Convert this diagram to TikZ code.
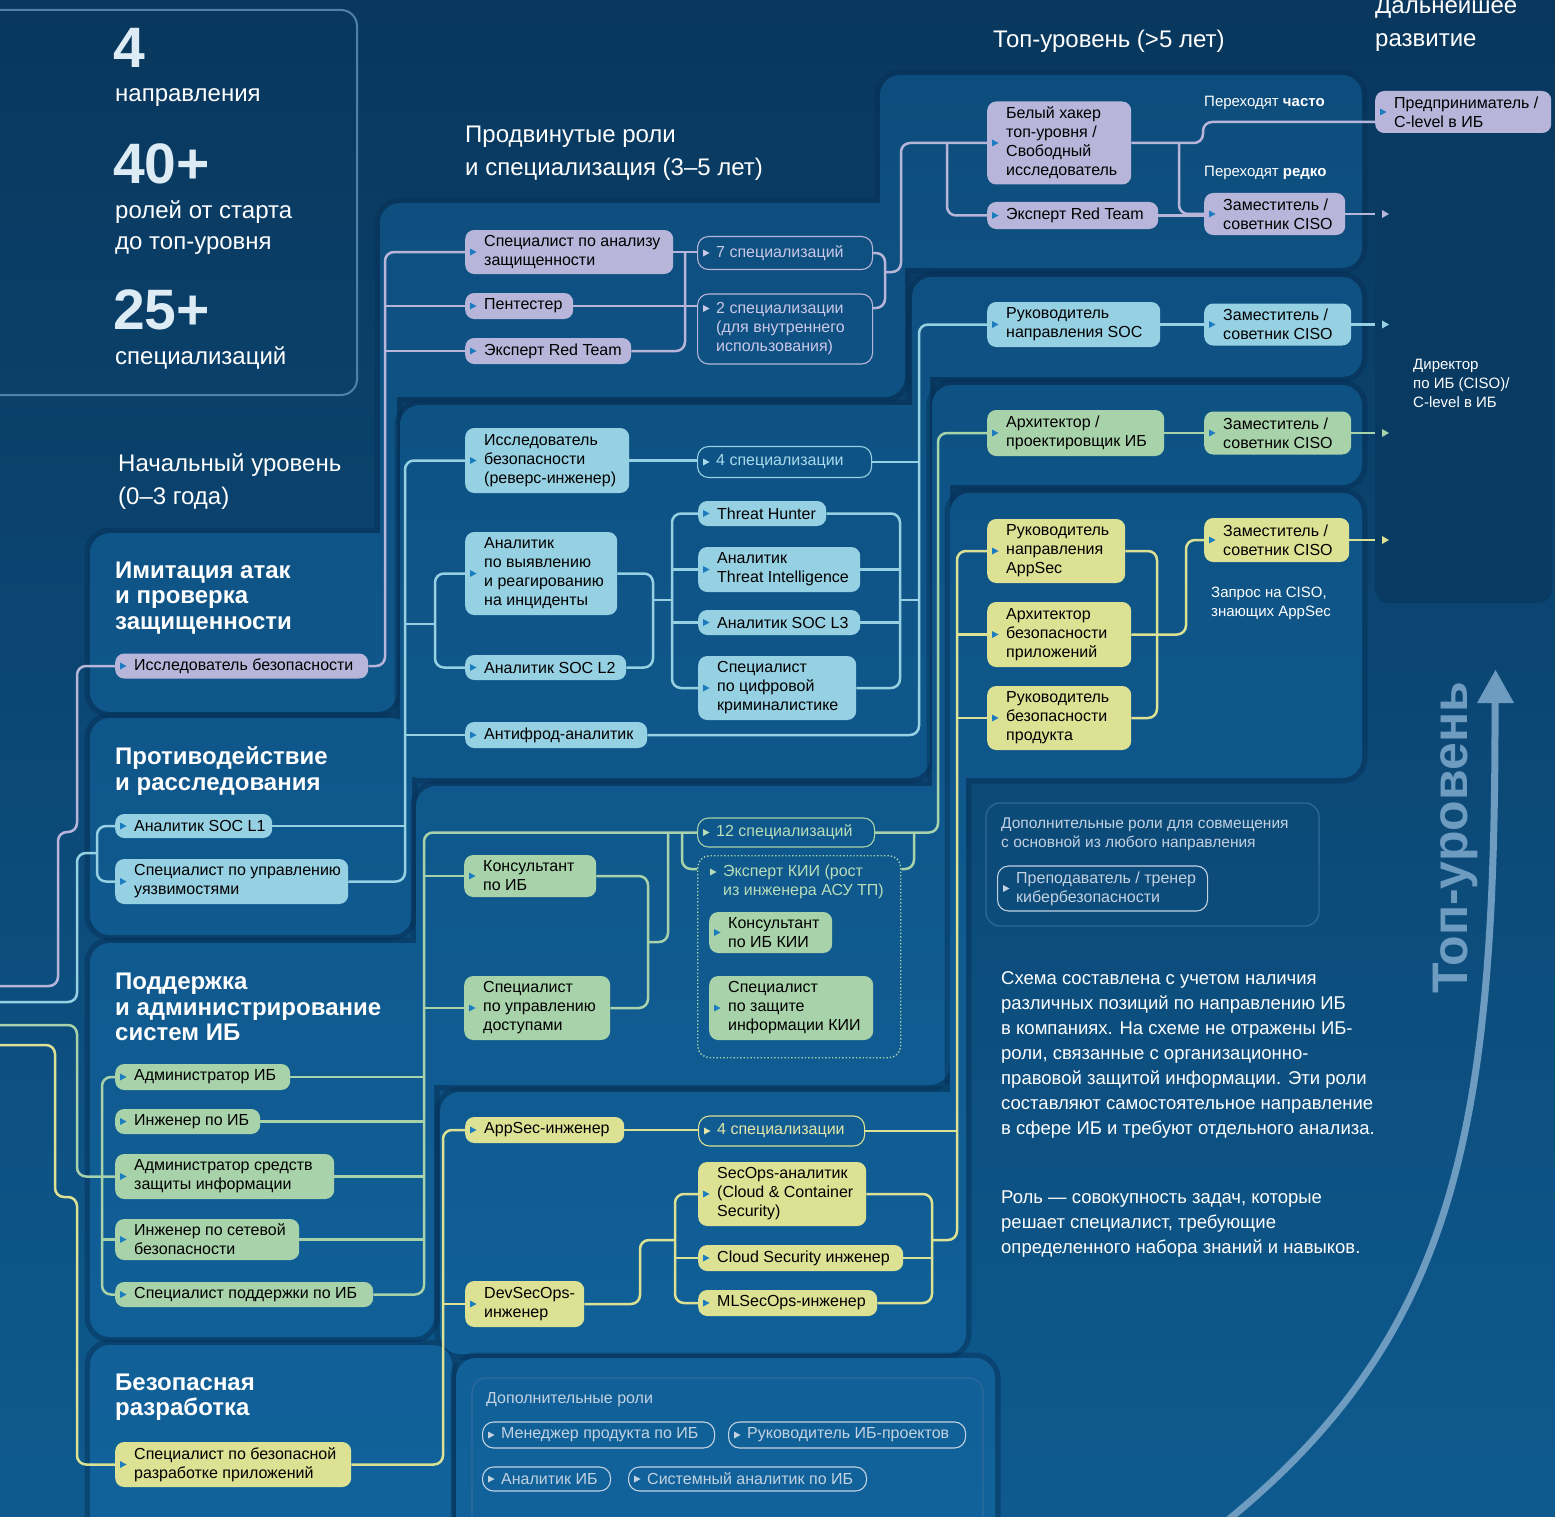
\documentclass[tikz,border=0pt]{standalone}
\usepackage{fontspec}
\setmainfont{Liberation Sans}
\usetikzlibrary{calc}
\definecolor{lavC}{HTML}{B7B5D9}
\definecolor{bluC}{HTML}{96D0E3}
\definecolor{grnC}{HTML}{A8D2AA}
\definecolor{yelC}{HTML}{DCE193}
\definecolor{mkC}{HTML}{1C7CC0}
\definecolor{bgTop}{HTML}{09375D}
\definecolor{bgBot}{HTML}{0E5A8F}
\definecolor{panTop}{HTML}{0D4C7B}
\definecolor{panBot}{HTML}{11629B}
\definecolor{shdC}{HTML}{062F55}
\definecolor{lavT}{HTML}{CAC8E8}
\definecolor{bluT}{HTML}{A9DBEC}
\definecolor{grnT}{HTML}{B8DDB9}
\definecolor{yelT}{HTML}{E3E7A8}
\definecolor{pilC}{HTML}{C2D2E1}
\definecolor{arrC}{HTML}{6E9BC0}
\definecolor{darkP}{HTML}{093A62}
\definecolor{frameC}{HTML}{4F81AA}
\definecolor{faintC}{HTML}{2F6A9A}
\definecolor{numC}{HTML}{DDEBF5}
\newcommand\fs[2]{\fontsize{#1}{#2}\selectfont}
\pgfdeclarelayer{bg}\pgfdeclarelayer{lines}\pgfsetlayers{bg,lines,main}
\tikzset{
 fbox/.style={rounded corners=9pt,inner sep=0pt},
 lavB/.style={fbox,fill=lavC}, bluB/.style={fbox,fill=bluC},
 grnB/.style={fbox,fill=grnC}, yelB/.style={fbox,fill=yelC},
 obox/.style={rounded corners=11pt,inner sep=0pt,draw=#1,line width=1.1pt},
 btxt/.style={font=\fs{16}{19},align=left,inner sep=0pt,text=black},
 ln/.style={line width=2.5pt,rounded corners=9pt},
 wt/.style={text=white,align=left,inner sep=0pt,anchor=west},
 head/.style={wt,font=\bfseries\fs{24}{25.5}},
 title/.style={wt,font=\fs{24}{33}},
 bignum/.style={wt,text=numC,font=\bfseries\fs{57}{57}},
}
% filled role box: name,x,y,w,h,style,text
\newcommand\rb[7]{%
 \node[#6,minimum width=#4pt,minimum height=#5pt,anchor=west] (#1) at (#2,#3) {};
 \node[btxt,anchor=west] at ([xshift=19pt]#1.west) {#7};
 \fill[mkC] ([xshift=5pt,yshift=3.5pt]#1.west) -- ++(6.5,3.5) -- ++(-6.5,3.5) -- cycle;}
% outline box: name,x,y,w,h,border colour,text colour,text
\newcommand\ob[8]{%
 \node[obox=#6,minimum width=#4pt,minimum height=#5pt,anchor=west] (#1) at (#2,#3) {};
 \node[btxt,text=#7,anchor=west] at ([xshift=19pt]#1.west) {#8};
 \fill[#7] ([xshift=6pt,yshift=3.5pt]#1.west) -- ++(6.5,3.5) -- ++(-6.5,3.5) -- cycle;}
\newcommand\panel[1]{%
 \draw[shdC,line width=11pt,opacity=.45] #1;
 \begin{scope}\clip #1; \shade[top color=panTop,bottom color=panBot] (0,0) rectangle (1555,1517);\end{scope}}
\begin{document}
\begin{tikzpicture}[x=1pt,y=-1pt]
\useasboundingbox (0,0) rectangle (1555,1517);
\clip (0,0) rectangle (1555,1517);
\begin{pgfonlayer}{bg}
\shade[top color=bgTop,bottom color=bgBot] (0,0) rectangle (1555,1517);
\draw[frameC,line width=2pt,rounded corners=16pt] (-20,10) rectangle (357,395);
\panel{[rounded corners=20pt] (880,75) rectangle (1362,268) (380,203) rectangle (905,397) [rounded corners=5pt] (380,300) rectangle (397,620) [rounded corners=20pt] (90,533) rectangle (397,712)}
\panel{[rounded corners=20pt] (912,277) rectangle (1362,377) (400,405) rectangle (930,778) [rounded corners=5pt] (912,330) rectangle (930,700) [rounded corners=20pt] (90,718) rectangle (412,935)}
\panel{[rounded corners=20pt] (932,385) rectangle (1362,485) (416,786) rectangle (950,1085) [rounded corners=5pt] (932,440) rectangle (950,900) [rounded corners=20pt] (90,943) rectangle (434,1337)}
\panel{[rounded corners=20pt] (950,493) rectangle (1362,778) (440,1092) rectangle (966,1354) [rounded corners=5pt] (950,550) rectangle (966,1150) [rounded corners=20pt] (90,1345) rectangle (452,1540)}
\panel{[rounded corners=20pt] (456,1358) rectangle (995,1540)}
\fill[darkP,rounded corners=14pt] (1375,158) rectangle (1552,603);
\draw[faintC,line width=1.2pt,rounded corners=14pt] (472,1378) rectangle (983,1540);
\draw[faintC,line width=1.2pt,rounded corners=14pt] (986,803) rectangle (1319,926);
\end{pgfonlayer}

% ---------- texts ----------
\node[bignum] (n4) at (113,48) {4};
\node[wt,font=\fs{24}{31}] (t4) at (115,98) {направления};
\node[bignum] (n40) at (113,164) {40+};
\node[wt,font=\fs{24}{31}] (t40) at (115,228) {ролей от старта\\до топ-уровня};
\node[bignum] (n25) at (113,310) {25+};
\node[wt,font=\fs{24}{31}] (t25) at (115,358) {специализаций};
\node[title] (tstart) at (118,482) {Начальный уровень\\(0–3 года)};
\node[title] (tadv) at (465,153) {Продвинутые роли\\и специализация (3–5 лет)};
\node[title] (ttop) at (993,41) {Топ-уровень (>5 лет)};
\node[title] (tfur) at (1375,24) {Дальнейшее\\развитие};
\node[head] (h1) at (115,598) {Имитация атак\\и проверка\\защищенности};
\node[head] (h2) at (115,771) {Противодействие\\и расследования};
\node[head] (h3) at (115,1007) {Поддержка\\и администрирование\\систем ИБ};
\node[head] (h4) at (115,1397) {Безопасная\\разработка};
\node[wt,font=\fs{15}{19}] (often) at (1204,103) {Переходят \textbf{часто}};
\node[wt,font=\fs{15}{19}] (rare) at (1204,173) {Переходят \textbf{редко}};
\node[wt,font=\fs{15}{19}] (req) at (1211,603) {Запрос на CISO,\\знающих AppSec};
\node[wt,font=\fs{15}{19}] (dir) at (1413,383) {Директор\\по ИБ (CISO)/\\C-level в ИБ};
\node[wt,text=pilC,font=\fs{15.5}{19}] (addc) at (1001,834.5) {Дополнительные роли для совмещения\\с основной из любого направления};
\node[wt,text=pilC,font=\fs{16}{19}] (addr) at (486,1400) {Дополнительные роли};
\node[wt,font=\fs{18.5}{25}] (p1) at (1001,1055) {Схема составлена с учетом наличия\\различных позиций по направлению ИБ\\в компаниях. На схеме не отражены ИБ-\\роли, связанные с организационно-\\правовой защитой информации. Эти роли\\составляют самостоятельное направление\\в сфере ИБ и требуют отдельного анализа.};
\node[wt,font=\fs{18.5}{25}] (p2) at (1001,1224) {Роль — совокупность задач, которые\\решает специалист, требующие\\определенного набора знаний и навыков.};

% ---------- lavender ----------
\rb{ib1}{115}{666}{253}{25}{lavB}{Исследователь безопасности}
\rb{sas}{465}{252}{208}{44}{lavB}{Специалист по анализу\\защищенности}
\rb{pen}{465}{306}{108}{26}{lavB}{Пентестер}
\rb{ert1}{465}{351}{166}{26}{lavB}{Эксперт Red Team}
\ob{s7}{697}{253}{175}{33}{lavC}{lavT}{7 специализаций}
\node[obox=lavC,minimum width=175pt,minimum height=70pt,anchor=west] (s2) at (697,329) {};
\node[btxt,text=lavT,anchor=west] at ([xshift=19pt]s2.west) {2 специализации\\(для внутреннего\\использования)};
\fill[lavT] (703,305) -- ++(6.5,3.5) -- ++(-6.5,3.5) -- cycle;
\rb{wh}{987}{143}{144}{83}{lavB}{Белый хакер\\топ-уровня /\\Свободный\\исследователь}
\rb{ert2}{987}{215.5}{171}{27}{lavB}{Эксперт Red Team}
\rb{zam1}{1204}{214}{141}{42}{lavB}{Заместитель /\\советник CISO}
\rb{pred}{1375}{112}{176}{42}{lavB}{Предприниматель /\\C-level в ИБ}

% ---------- blue ----------
\rb{soc1}{115}{826}{157}{24}{bluB}{Аналитик SOC L1}
\rb{vuln}{115}{881.5}{233}{45}{bluB}{Специалист по управлению\\уязвимостями}
\rb{rev}{465}{460.5}{164}{65}{bluB}{Исследователь\\безопасности\\(реверс-инженер)}
\ob{s4a}{697}{462}{174}{31}{bluC}{bluT}{4 специализации}
\rb{det}{465}{573.5}{152}{83}{bluB}{Аналитик\\по выявлению\\и реагированию\\на инциденты}
\rb{soc2}{465}{667.5}{161}{25}{bluB}{Аналитик SOC L2}
\rb{th}{698}{513.5}{128}{25}{bluB}{Threat Hunter}
\rb{ti}{698}{569.5}{162}{45}{bluB}{Аналитик\\Threat Intelligence}
\rb{soc3}{698}{622.5}{162}{25}{bluB}{Аналитик SOC L3}
\rb{forn}{698}{688}{158}{64}{bluB}{Специалист\\по цифровой\\криминалистике}
\rb{afr}{465}{735}{182}{26}{bluB}{Антифрод-аналитик}
\rb{socl}{987}{324.5}{173}{45}{bluB}{Руководитель\\направления SOC}
\rb{zam2}{1204}{324.5}{147}{42}{bluB}{Заместитель /\\советник CISO}

% ---------- green ----------
\rb{adm}{115}{1077}{175}{26}{grnB}{Администратор ИБ}
\rb{eng}{115}{1121.5}{145}{25}{grnB}{Инженер по ИБ}
\rb{szi}{115}{1176.5}{219}{45}{grnB}{Администратор средств\\защиты информации}
\rb{net}{115}{1239.5}{184}{41}{grnB}{Инженер по сетевой\\безопасности}
\rb{sup}{115}{1294.5}{258}{25}{grnB}{Специалист поддержки по ИБ}
\rb{kons}{464}{876}{132}{42}{grnB}{Консультант\\по ИБ}
\rb{acc}{464}{1008}{146}{64}{grnB}{Специалист\\по управлению\\доступами}
\ob{s12}{697}{832.5}{177}{29}{grnC}{grnT}{12 специализаций}
\node[draw=grnC,dotted,line width=1.4pt,rounded corners=12pt,minimum width=203pt,minimum height=202pt,inner sep=0pt,anchor=north west] (kiibox) at (697,855) {};
\node[btxt,text=grnT,anchor=west] (kiit) at (723,882) {Эксперт КИИ (рост\\из инженера АСУ ТП)};
\fill[grnT] (710,868.5) -- ++(6.5,3.5) -- ++(-6.5,3.5) -- cycle;
\rb{konskii}{709}{932.5}{123}{41}{grnB}{Консультант\\по ИБ КИИ}
\rb{zkii}{709}{1008}{164}{64}{grnB}{Специалист\\по защите\\информации КИИ}
\rb{arch}{987}{433}{177}{46}{grnB}{Архитектор /\\проектировщик ИБ}
\rb{zam3}{1204}{433}{147}{43}{grnB}{Заместитель /\\советник CISO}

% ---------- yellow ----------
\rb{sdev}{115}{1464.5}{236}{45}{yelB}{Специалист по безопасной\\разработке приложений}
\rb{appsec}{465}{1130}{159}{26}{yelB}{AppSec-инженер}
\ob{s4b}{698}{1131}{166}{30}{yelC}{yelT}{4 специализации}
\rb{devsec}{465}{1304}{119}{46}{yelB}{DevSecOps-\\инженер}
\rb{secops}{698}{1194}{168}{64}{yelB}{SecOps-аналитик\\(Cloud \& Container\\Security)}
\rb{cloud}{698}{1258}{205}{26}{yelB}{Cloud Security инженер}
\rb{ml}{698}{1303}{179}{26}{yelB}{MLSecOps-инженер}
\rb{rapp}{987}{551}{138}{64}{yelB}{Руководитель\\направления\\AppSec}
\rb{aapp}{987}{634.5}{144}{65}{yelB}{Архитектор\\безопасности\\приложений}
\rb{rprod}{987}{718}{144}{64}{yelB}{Руководитель\\безопасности\\продукта}
\rb{zam4}{1204}{540}{145}{44}{yelB}{Заместитель /\\советник CISO}

% ---------- pills ----------
\ob{teach}{997}{888.5}{210}{45}{pilC}{pilC}{Преподаватель / тренер\\кибербезопасности}
\ob{mp}{482}{1435}{232}{26}{pilC}{pilC}{Менеджер продукта по ИБ}
\ob{rp}{728}{1435}{237}{26}{pilC}{pilC}{Руководитель ИБ-проектов}
\ob{ai}{482}{1479}{128}{24}{pilC}{pilC}{Аналитик ИБ}
\ob{sa}{628}{1479}{238}{24}{pilC}{pilC}{Системный аналитик по ИБ}

% ---------- top-level arrow ----------
\draw[arrC,line width=7pt] (1228,1520) .. controls (1460,1330) and (1496,1120) .. (1495,698);
\fill[arrC] (1477,703) -- (1495.5,670) -- (1514,703) -- cycle;
\node[rotate=90,font=\bfseries\fs{50}{50},text=arrC,inner sep=0pt] (tl) at (1455,838) {Топ-уровень};

% ---------- connectors ----------
\begin{pgfonlayer}{lines}
% lavender
\draw[ln,lavC] (0,986) -- (58,986) -- (58,832) -- (77,832) -- (77,666) -- (ib1.west);
\draw[ln,lavC] (ib1.east) -- (385,666) -- (385,252) -- (sas.west);
\draw[ln,lavC] (pen.west) -- (385,306);
\draw[ln,lavC] (ert1.west) -- (385,351);
\draw[ln,lavC] (sas.east) -- (sas.east -| s7.west);
\draw[ln,lavC] (ert1.east) -- (685,351) -- (685,252);
\draw[ln,lavC] (pen.east) -- (pen.east -| s2.west);
\draw[ln,lavC] (s7.east) -- (885,253) -- (885,308) -- (s2.east |- 0,308);
\draw[ln,lavC] (885,272) -- (901,272) -- (901,143) -- (wh.west);
\draw[ln,lavC] (947,143) -- (947,215.5) -- (ert2.west);
\draw[ln,lavC] (wh.east) -- (1203,143) -- (1203,122) -- (pred.west |- 0,122);
\draw[ln,lavC] (1179,143) -- (1179,214) -- (zam1.west);
\draw[ln,lavC] (ert2.east) -- (ert2.east -| zam1.west);
\draw[ln,lavC] (zam1.east) -- (1375,214);
\fill[lavC] (1382,210) -- (1389,214) -- (1382,218) -- cycle;
% blue
\draw[ln,bluC] (0,1002) -- (77,1002) -- (77,853) -- (97,853);
\draw[ln,bluC] (soc1.west) -- (97,826) -- (97,881.5) -- (vuln.west);
\draw[ln,bluC] (vuln.east) -- (405,881.5) -- (405,460.5) -- (rev.west);
\draw[ln,bluC] (soc1.east) -- (405,826);
\draw[ln,bluC] (afr.west) -- (405,735);
\draw[ln,bluC] (405,624) -- (435,624);
\draw[ln,bluC] (det.west) -- (435,573.5) -- (435,667.5) -- (soc2.west);
\draw[ln,bluC] (det.east) -- (653,573.5) -- (653,667.5) -- (soc2.east);
\draw[ln,bluC] (653,600) -- (672,600);
\draw[ln,bluC] (th.west) -- (672,513.5) -- (672,688) -- (forn.west);
\draw[ln,bluC] (ti.west) -- (672,569.5);
\draw[ln,bluC] (soc3.west) -- (672,622.5);
\draw[ln,bluC] (th.east) -- (900,513.5) -- (900,688) -- (forn.east);
\draw[ln,bluC] (ti.east) -- (900,569.5);
\draw[ln,bluC] (soc3.east) -- (900,622.5);
\draw[ln,bluC] (900,600) -- (919,600);
\draw[ln,bluC] (rev.east) -- (rev.east -| s4a.west);
\draw[ln,bluC] (s4a.east) -- (919,462);
\draw[ln,bluC] (afr.east) -- (919,735) -- (919,324.5) -- (socl.west);
\draw[ln,bluC] (socl.east) -- (zam2.west);
\draw[ln,bluC] (zam2.east) -- (1375,324.5);
\fill[bluC] (1382,320.5) -- (1389,324.5) -- (1382,328.5) -- cycle;
% green
\draw[ln,grnC] (0,1025) -- (77,1025) -- (77,1176.5) -- (szi.west);
\draw[ln,grnC] (adm.west) -- (102,1077) -- (102,1294.5) -- (sup.west);
\draw[ln,grnC] (net.west) -- (102,1239.5);
\draw[ln,grnC] (sup.east) -- (424,1294.5) -- (424,832.5) -- (s12.west);
\draw[ln,grnC] (adm.east) -- (424,1077);
\draw[ln,grnC] (eng.east) -- (424,1121.5);
\draw[ln,grnC] (szi.east) -- (424,1176.5);
\draw[ln,grnC] (net.east) -- (424,1239.5);
\draw[ln,grnC] (kons.west) -- (424,876);
\draw[ln,grnC] (acc.west) -- (424,1008);
\draw[ln,grnC] (kons.east) -- (648,876) -- (648,1008) -- (acc.east);
\draw[ln,grnC] (648,942) -- (668,942) -- (668,832.5);
\draw[ln,grnC] (682,832.5) -- (682,869) -- (kiibox.west |- 0,869);
\draw[ln,grnC] (kiibox.east |- 0,869) -- (914,869) -- (914,832.5);
\draw[ln,grnC] (s12.east) -- (938,832.5) -- (938,433) -- (arch.west);
\draw[ln,grnC] (arch.east) -- (zam3.west);
\draw[ln,grnC] (zam3.east) -- (1375,433);
\fill[grnC] (1382,429) -- (1389,433) -- (1382,437) -- cycle;
% yellow
\draw[ln,yelC] (0,1045) -- (55,1045) -- (55,1197) -- (77,1197) -- (77,1464.5) -- (sdev.west);
\draw[ln,yelC] (sdev.east) -- (443,1464.5) -- (443,1130) -- (appsec.west);
\draw[ln,yelC] (devsec.west) -- (443,1304);
\draw[ln,yelC] (appsec.east) -- (appsec.east -| s4b.west);
\draw[ln,yelC] (s4b.east) -- (957,1131);
\draw[ln,yelC] (devsec.east) -- (640,1304) -- (640,1240) -- (675,1240);
\draw[ln,yelC] (secops.west) -- (675,1194) -- (675,1303) -- (ml.west);
\draw[ln,yelC] (cloud.west) -- (675,1258);
\draw[ln,yelC] (secops.east) -- (932,1194) -- (932,1303) -- (ml.east);
\draw[ln,yelC] (cloud.east) -- (932,1258);
\draw[ln,yelC] (932,1240) -- (957,1240) -- (957,551) -- (rapp.west);
\draw[ln,yelC] (aapp.west) -- (957,634.5);
\draw[ln,yelC] (rprod.west) -- (957,718);
\draw[ln,yelC] (rapp.east) -- (1157,551) -- (1157,718) -- (rprod.east);
\draw[ln,yelC] (aapp.east) -- (1186,634.5) -- (1186,540) -- (zam4.west);
\draw[ln,yelC] (zam4.east) -- (1375,540);
\fill[yelC] (1382,536) -- (1389,540) -- (1382,544) -- cycle;
\end{pgfonlayer}
\end{tikzpicture}
\end{document}
